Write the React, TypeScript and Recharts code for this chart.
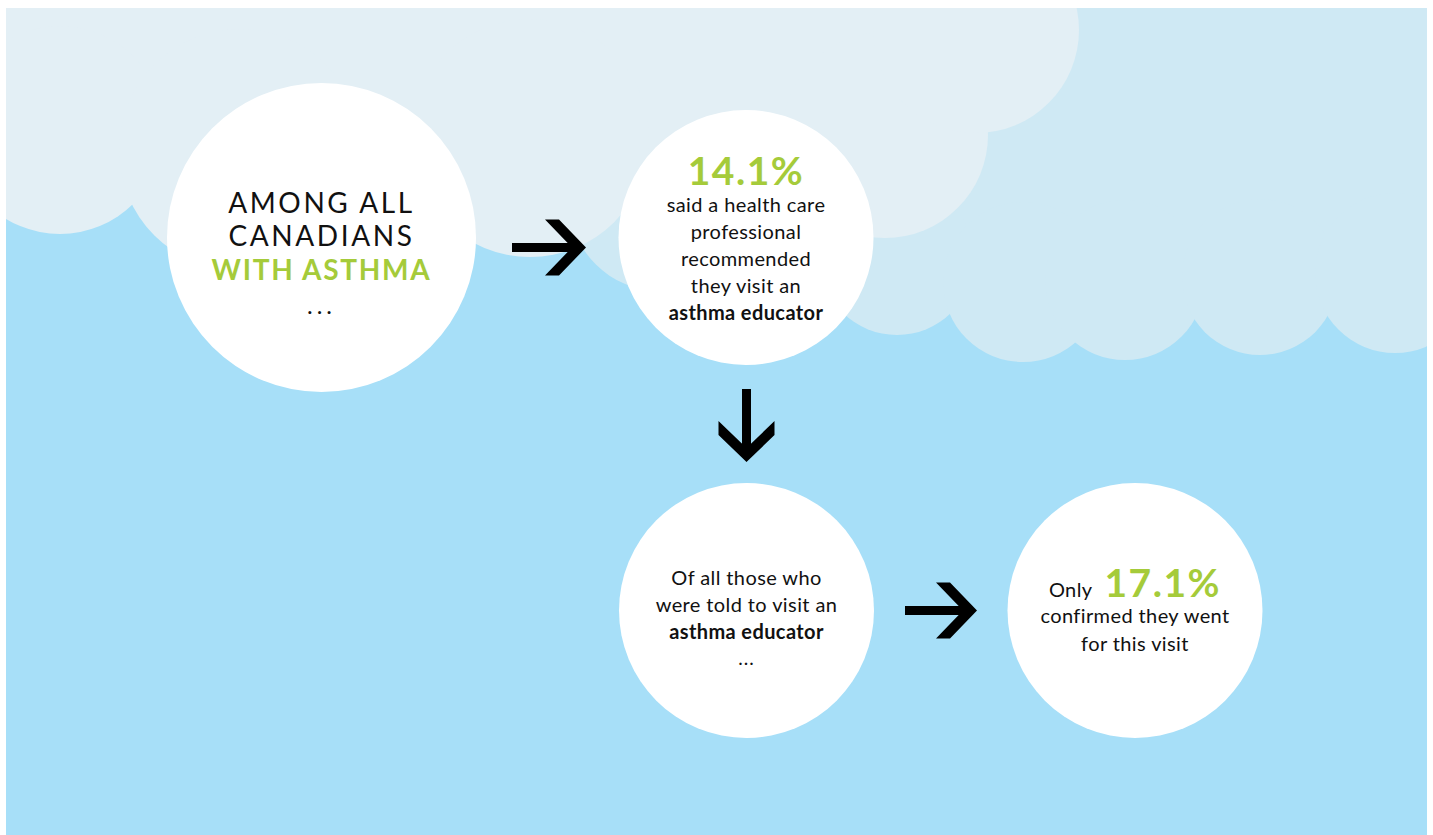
import React from 'react';
import { ScatterChart, Scatter, XAxis, YAxis } from 'recharts';

// ---------- data ----------
const stepIds = ['all', 'recommended', 'told', 'confirmed'];
const introLines = ['AMONG ALL', 'CANADIANS'];
const introHighlight = 'WITH ASTHMA';
const recommendedPct = 14.1;
const recommendedLines = ['said a health care', 'professional', 'recommended', 'they visit an'];
const educatorLabel = 'asthma educator';
const toldLines = ['Of all those who', 'were told to visit an'];
const onlyLabel = 'Only';
const confirmedPct = 17.1;
const confirmedLines = ['confirmed they went', 'for this visit'];
const ellipsis = '...';

// ---------- layout (pixel-space domain) ----------
const W = 1433;
const H = 835;
const PANEL = { left: 6, top: 8, right: 1427, bottom: 835 };

const nodeCenters = [
  { x: 321.5, y: 237.5, r: 154.5 },
  { x: 746, y: 237.5, r: 127.5 },
  { x: 746.5, y: 610.5, r: 127.5 },
  { x: 1135, y: 610.5, r: 127.5 },
];

const arrowLayout = [
  { x: 586, y: 247.5, dir: 'right', len: 74 },
  { x: 746.5, y: 462, dir: 'down', len: 73 },
  { x: 977, y: 610.5, dir: 'right', len: 72 },
];

const skyShapes = [
  { kind: 'rect', x: PANEL.left, y: PANEL.top, w: PANEL.right - PANEL.left, h: PANEL.bottom - PANEL.top },
];

const mediumCloud = [
  { kind: 'rect', x: 600, y: 8, w: 827, h: 250 },
  { kind: 'circle', x: 660, y: 200, r: 91 },
  { kind: 'circle', x: 897, y: 258, r: 77 },
  { kind: 'circle', x: 1023, y: 282, r: 80 },
  { kind: 'circle', x: 1125, y: 280, r: 80 },
  { kind: 'circle', x: 1260, y: 277, r: 78 },
  { kind: 'circle', x: 1395, y: 273, r: 80 },
];

const lightCloud = [
  { kind: 'rect', x: 6, y: 8, w: 970, h: 122 },
  { kind: 'rect', x: 560, y: 8, w: 320, h: 192 },
  { kind: 'circle', x: 60, y: 130, r: 104 },
  { kind: 'circle', x: 240, y: 150, r: 121 },
  { kind: 'circle', x: 530, y: 138, r: 119 },
  { kind: 'circle', x: 885, y: 135, r: 103 },
  { kind: 'circle', x: 976, y: 30, r: 103 },
];

const COLORS = {
  sky: '#a7dff8',
  medium: '#cfe9f4',
  light: '#e3eff5',
  node: '#ffffff',
  text: '#111111',
  green: '#a5cb3a',
  arrow: '#000000',
};
const FONT = 'Lato, "Noto Sans", sans-serif';
const BODY = 20;
const BODY_LS = 0.4;

const nodeData = stepIds.map((id, i) => ({ id, ...nodeCenters[i] }));

// ---------- shapes ----------
const makeBlobShape = (fill: string) => (props: any) => {
  const { cx, cy, payload } = props;
  if (payload.kind === 'rect') {
    return <rect x={cx} y={cy} width={payload.w} height={payload.h} fill={fill} />;
  }
  return <circle cx={cx} cy={cy} r={payload.r} fill={fill} />;
};

const ArrowShape = (props: any) => {
  const { cx, cy, payload } = props;
  const L = 41;
  const Hh = 28;
  const t = 14;
  const sw = 4.5;
  const head = `M${-L},${-Hh} L${-L + t},${-Hh} L0,0 L${-L + t},${Hh} L${-L},${Hh} L${-t},0 Z`;
  const shaft = `M${-payload.len},${-sw} L${-10},${-sw} L${-10},${sw} L${-payload.len},${sw} Z`;
  const rot = payload.dir === 'down' ? 90 : 0;
  return (
    <g transform={`translate(${cx},${cy}) rotate(${rot})`}>
      <path d={shaft} fill={COLORS.arrow} />
      <path d={head} fill={COLORS.arrow} />
    </g>
  );
};

const T = (p: any) => (
  <text
    x={p.x}
    y={p.y}
    textAnchor="middle"
    fontFamily={FONT}
    fontSize={p.size}
    fontWeight={p.bold ? 700 : 400}
    fill={p.fill || COLORS.text}
    letterSpacing={p.ls || 0}
  >
    {p.children}
  </text>
);

const NodeShape = (props: any) => {
  const { cx, cy, payload } = props;
  const id = payload.id;
  let content: any = null;
  if (id === 'all') {
    content = (
      <g>
        <T x={cx} y={cy - 24.5} size={28} ls={2.6}>{introLines[0]}</T>
        <T x={cx} y={cy + 8.5} size={28} ls={2.6}>{introLines[1]}</T>
        <T x={cx} y={cy + 42.5} size={28} bold fill={COLORS.green} ls={1.7}>{introHighlight}</T>
        <T x={cx} y={cy + 76} size={24} ls={4}>{ellipsis}</T>
      </g>
    );
  } else if (id === 'recommended') {
    content = (
      <g>
        <T x={cx} y={cy - 52.5} size={39} bold fill={COLORS.green} ls={1.5}>{`${recommendedPct}%`}</T>
        {recommendedLines.map((l, i) => (
          <T key={i} x={cx} y={cy - 25.5 + i * 27} size={BODY} ls={BODY_LS}>{l}</T>
        ))}
        <T x={cx} y={cy - 25.5 + recommendedLines.length * 27} size={BODY} bold ls={BODY_LS}>{educatorLabel}</T>
      </g>
    );
  } else if (id === 'told') {
    content = (
      <g>
        {toldLines.map((l, i) => (
          <T key={i} x={cx} y={cy - 25.5 + i * 27} size={BODY} ls={BODY_LS}>{l}</T>
        ))}
        <T x={cx} y={cy - 25.5 + toldLines.length * 27} size={BODY} bold ls={BODY_LS}>{educatorLabel}</T>
        <T x={cx} y={cy + 54.5} size={19} ls={1}>{ellipsis}</T>
      </g>
    );
  } else if (id === 'confirmed') {
    content = (
      <g>
        <text x={cx} y={cy - 13.5} textAnchor="middle" fontFamily={FONT} fill={COLORS.text}>
          <tspan fontSize={BODY} letterSpacing={BODY_LS}>{onlyLabel}</tspan>
          <tspan fontSize={39} fontWeight={700} fill={COLORS.green} letterSpacing={1.5} dx={12}>{`${confirmedPct}%`}</tspan>
        </text>
        {confirmedLines.map((l, i) => (
          <T key={i} x={cx} y={cy + 12.5 + i * 28} size={BODY} ls={BODY_LS}>{l}</T>
        ))}
      </g>
    );
  }
  return (
    <g>
      <circle cx={cx} cy={cy} r={payload.r} fill={COLORS.node} />
      {content}
    </g>
  );
};

export default function App() {
  return (
    <div style={{ position: 'absolute', left: 0, top: 0, width: W, height: H, background: '#ffffff' }}>
      <ScatterChart
        width={W}
        height={H}
        margin={{ top: PANEL.top, right: W - PANEL.right, bottom: H - PANEL.bottom, left: PANEL.left }}
      >
        <XAxis type="number" dataKey="x" domain={[PANEL.left, PANEL.right]} hide allowDataOverflow />
        <YAxis type="number" dataKey="y" domain={[PANEL.top, PANEL.bottom]} reversed hide allowDataOverflow />
        <Scatter data={skyShapes} shape={makeBlobShape(COLORS.sky)} isAnimationActive={false} />
        <Scatter data={mediumCloud} shape={makeBlobShape(COLORS.medium)} isAnimationActive={false} />
        <Scatter data={lightCloud} shape={makeBlobShape(COLORS.light)} isAnimationActive={false} />
        <Scatter data={arrowLayout} shape={ArrowShape} isAnimationActive={false} />
        <Scatter data={nodeData} shape={NodeShape} isAnimationActive={false} />
      </ScatterChart>
    </div>
  );
}
